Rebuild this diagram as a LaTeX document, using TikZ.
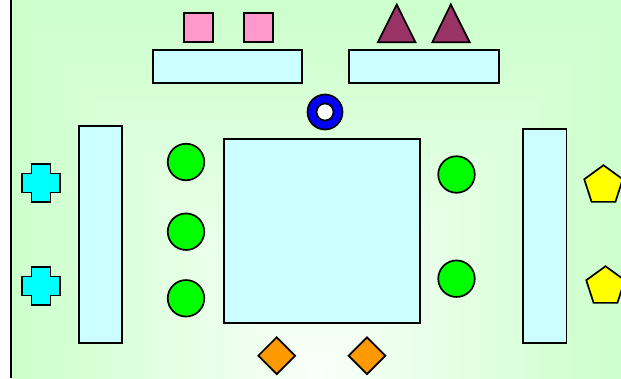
\documentclass[tikz,border=0pt]{standalone}
\usetikzlibrary{shapes.geometric}
\definecolor{bgedge}{RGB}{204,255,204}
\definecolor{bgmid}{RGB}{250,255,250}
\definecolor{boxfill}{RGB}{204,255,255}
\definecolor{pinkfill}{RGB}{255,153,204}
\definecolor{plumfill}{RGB}{153,51,102}
\definecolor{greenfill}{RGB}{0,255,0}
\definecolor{cyanfill}{RGB}{0,255,255}
\definecolor{yellowfill}{RGB}{255,255,0}
\definecolor{orangefill}{RGB}{255,153,0}
\tikzset{
  outl/.style={draw=black, line width=1.7pt, line join=miter},
  box/.style={outl, fill=boxfill, rectangle, inner sep=0pt, outer sep=0pt},
  pinksq/.style={outl, fill=pinkfill, rectangle, inner sep=0pt, minimum size=29.5pt},
  dot/.style={outl, fill=greenfill, circle, inner sep=0pt, minimum size=36.5pt},
  penta/.style={outl, fill=yellowfill, regular polygon, regular polygon sides=5, inner sep=0pt, minimum size=40.5pt},
  diam/.style={outl, fill=orangefill, diamond, inner sep=0pt, minimum width=37.5pt, minimum height=37.5pt},
  tri/.style={outl, fill=plumfill},
  crossst/.style={outl, fill=cyanfill}
}
\begin{document}
\begin{tikzpicture}[x=1pt,y=-1pt]
\useasboundingbox (0,0) rectangle (621,378);
\fill[white] (0,0) rectangle (621,378);
% rectangular gradient, lightest at the bottom centre
\begin{scope}
\clip (11,0) rectangle (621,378);
\foreach \i in {0,...,48}{
  \pgfmathsetmacro\f{1-\i/48}
  \pgfmathtruncatemacro\p{100*\i/48}
  \fill[bgmid!\p!bgedge] ({316-305*\f},{372-372*\f}) rectangle ({316+305*\f},{372+372*\f});
}
\end{scope}
\coordinate (lt) at (11,0);
\coordinate (lb) at (11,378);
\draw[line width=2.2pt] (lt) -- (lb);

% tables
\node[box, minimum width=149.5pt, minimum height=33.5pt] (topL) at (227.5,66.5) {};
\node[box, minimum width=149.5pt, minimum height=33.5pt] (topR) at (424,66.5) {};
\node[box, minimum width=195.5pt, minimum height=183.5pt] (centre) at (322,231) {};
\node[box, minimum width=43.5pt, minimum height=217.5pt] (left) at (100.5,234.5) {};
\node[box, minimum width=43.5pt, minimum height=214.5pt] (right) at (544.8,236) {};

% pink squares
\node[pinksq] (sq1) at (198.5,27.5) {};
\node[pinksq] (sq2) at (258.5,27.5) {};

% triangles
\draw[tri] (377.8,42.3) -- (396.7,4.5) -- (415.5,42.3) -- cycle;
\draw[tri] (432.3,42.3) -- (450.8,4.5) -- (469.7,42.3) -- cycle;

% ring
\node[outl, circle, fill=blue, inner sep=0pt, minimum size=35pt] (ring) at (325,112) {};
\node[outl, circle, fill=white, inner sep=0pt, minimum size=17pt] (hole) at (ring) {};

% green circles
\node[dot] (g1) at (186,162) {};
\node[dot] (g2) at (186,231.7) {};
\node[dot] (g3) at (186,298.3) {};
\node[dot] (g4) at (456.5,174.5) {};
\node[dot] (g5) at (456.5,278.7) {};

% crosses
\draw[crossst] (41,183) ++(-9.5,-19.2) -- ++(19,0) -- ++(0,9.7) -- ++(9.7,0) -- ++(0,19) -- ++(-9.7,0) -- ++(0,9.7) -- ++(-19,0) -- ++(0,-9.7) -- ++(-9.7,0) -- ++(0,-19) -- ++(9.7,0) -- cycle;
\draw[crossst] (41,286) ++(-9.5,-19.2) -- ++(19,0) -- ++(0,9.7) -- ++(9.7,0) -- ++(0,19) -- ++(-9.7,0) -- ++(0,9.7) -- ++(-19,0) -- ++(0,-9.7) -- ++(-9.7,0) -- ++(0,-19) -- ++(9.7,0) -- cycle;

% pentagons
\node[penta] (p1) at (603.5,185.5) {};
\node[penta] (p2) at (605.5,286.5) {};

% diamonds
\node[diam] (d1) at (276.7,355.7) {};
\node[diam] (d2) at (367,355.7) {};
\end{tikzpicture}
\end{document}
